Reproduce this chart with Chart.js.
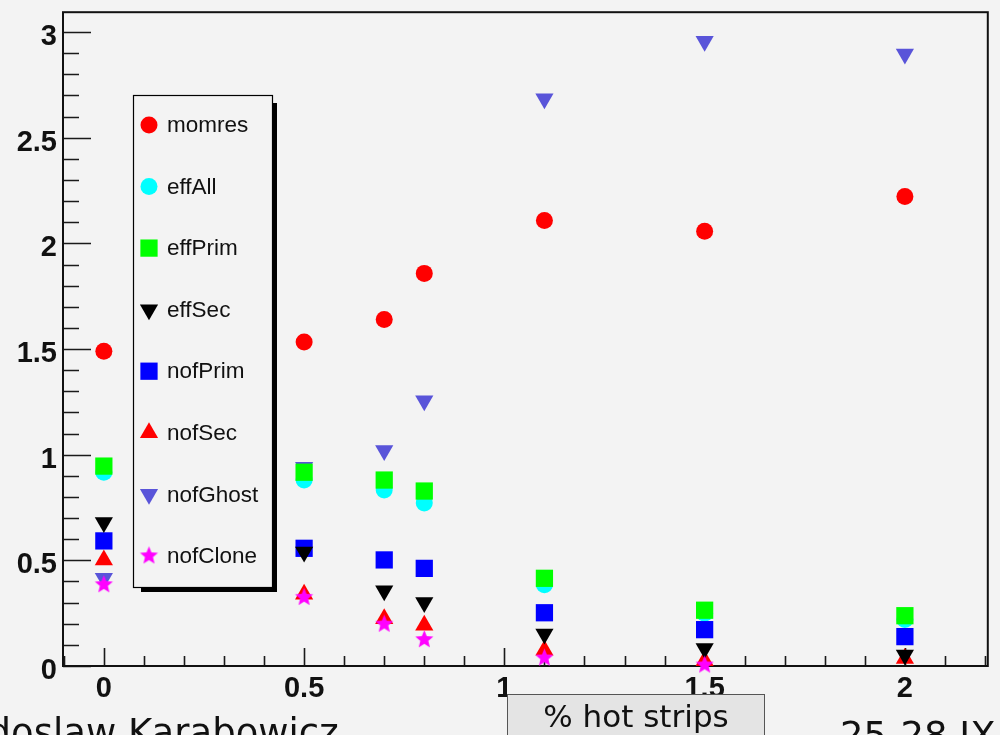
<!DOCTYPE html>
<html><head><meta charset="utf-8">
<script src="https://cdn.jsdelivr.net/npm/chart.js@4.4.1/dist/chart.umd.min.js"></script>
<style>html,body{margin:0;padding:0;background:#f3f3f3;overflow:hidden}canvas{display:block}</style>
</head><body>
<canvas id="c" width="1000" height="735"></canvas>
<script>
// ---- data ----
const hotStrips = [0, 0.5, 0.7, 0.8, 1.1, 1.5, 2.0];
const momres   = [1.49, 1.533, 1.64, 1.858, 2.108, 2.057, 2.222];
const effAll   = [0.917, 0.88, 0.833, 0.771, 0.384, 0.25, 0.22];
const effPrim  = [0.946, 0.917, 0.88, 0.828, 0.415, 0.264, 0.238];
const effSec   = [0.679, 0.54, 0.356, 0.30, 0.151, 0.083, 0.052];
const nofPrim  = [0.592, 0.557, 0.502, 0.462, 0.252, 0.172, 0.139];
const nofSec   = [0.502, 0.34, 0.224, 0.193, 0.075, 0.025, 0.035];
const nofGhost = [0.415, 0.94, 1.02, 1.255, 2.684, 2.957, 2.896];
const nofClone = [0.385, 0.325, 0.198, 0.125, 0.038, 0.005, null];
const seriesNames = ['momres','effAll','effPrim','effSec','nofPrim','nofSec','nofGhost','nofClone'];
const seriesValues = [momres, effAll, effPrim, effSec, nofPrim, nofSec, nofGhost, nofClone];
const xTickLabels = [0, 0.5, 1, 1.5, 2];
const yTickLabels = [0, 0.5, 1, 1.5, 2, 2.5, 3];
const xAxisTitle = '% hot strips';
const authorText = 'Radoslaw Karabowicz';
const dateText = '25-28 IX';

// ---- styles ----
const BG = '#f3f3f3';
function makeStar(color, R, r) {
  const s = Math.ceil(2 * R + 2);
  const c = document.createElement('canvas'); c.width = s; c.height = s;
  const g = c.getContext('2d'); g.fillStyle = color; g.beginPath();
  for (let i = 0; i < 10; i++) {
    const a = -Math.PI / 2 + i * Math.PI / 5; const rr = i % 2 ? r : R;
    g.lineTo(s / 2 + rr * Math.cos(a), s / 2 + rr * Math.sin(a));
  }
  g.closePath(); g.fill(); return c;
}
const starImg = makeStar('#ff00ff', 9.5, 4.2);
const styles = [
  {color:'#ff0000', pointStyle:'circle',   radius:8.5,  rotation:0,   order:7},
  {color:'#00ffff', pointStyle:'circle',   radius:8.5,  rotation:0,   order:6},
  {color:'#00ff00', pointStyle:'rect',     radius:12.2, rotation:0,   order:2},
  {color:'#000000', pointStyle:'triangle', radius:10.5, rotation:180, order:1},
  {color:'#0000ff', pointStyle:'rect',     radius:12.2, rotation:0,   order:4},
  {color:'#ff0000', pointStyle:'triangle', radius:10.5, rotation:0,   order:3},
  {color:'#5954d9', pointStyle:'triangle', radius:10.5, rotation:180, order:5},
  {color:'#ff00ff', pointStyle:starImg,    radius:10,   rotation:0,   order:0}
];

const datasets = seriesNames.map((name, k) => ({
  label: name,
  data: hotStrips.map((x, i) => ({x: x, y: seriesValues[k][i]})).filter(p => p.y !== null),
  showLine: false,
  pointStyle: styles[k].pointStyle,
  pointRadius: styles[k].radius,
  pointHoverRadius: styles[k].radius,
  pointRotation: styles[k].rotation,
  pointBackgroundColor: styles[k].color,
  pointBorderColor: styles[k].color,
  pointBorderWidth: 0,
  order: styles[k].order,
  clip: false
}));

function fallbackDrawPoint(ctx, o, x, y) {
  ctx.save(); ctx.translate(x, y); ctx.rotate((o.rotation || 0) * Math.PI / 180);
  const r = o.radius; ctx.beginPath();
  if (o.pointStyle === 'circle') ctx.arc(0, 0, r, 0, 2 * Math.PI);
  else if (o.pointStyle === 'rect') { const s = r * Math.SQRT1_2; ctx.rect(-s, -s, 2 * s, 2 * s); }
  else if (o.pointStyle === 'triangle') { ctx.moveTo(0, -r); ctx.lineTo(r * 0.866, r / 2); ctx.lineTo(-r * 0.866, r / 2); ctx.closePath(); }
  else { ctx.restore(); ctx.drawImage(o.pointStyle, x - o.pointStyle.width / 2, y - o.pointStyle.height / 2); return; }
  ctx.fill(); ctx.restore();
}
const drawPt = (Chart.helpers && Chart.helpers.drawPoint) ? Chart.helpers.drawPoint : fallbackDrawPoint;

const bgPlugin = {
  id: 'bg',
  beforeDraw(chart) {
    const c = chart.ctx; c.save(); c.fillStyle = BG; c.fillRect(0, 0, chart.width, chart.height); c.restore();
  }
};

const framePlugin = {
  id: 'frameTicks',
  beforeDatasetsDraw(chart) {
    const c = chart.ctx, a = chart.chartArea, xs = chart.scales.x, ys = chart.scales.y;
    c.save();
    c.strokeStyle = '#1a1a1a';
    c.lineWidth = 1.6;
    c.beginPath();
    for (let i = -1; i <= 22; i++) {
      const v = i / 10; if (v < xs.min - 1e-9 || v > xs.max + 1e-9) continue;
      const px = Math.round(xs.getPixelForValue(v)) + 0.5;
      const len = (i % 5 === 0) ? 18 : 10;
      c.moveTo(px, a.bottom); c.lineTo(px, a.bottom - len);
    }
    for (let i = 0; i <= 30; i++) {
      const v = i / 10; if (v > ys.max + 1e-9) continue;
      const py = Math.round(ys.getPixelForValue(v)) + 0.5;
      const len = (i % 5 === 0) ? 28 : 16;
      c.moveTo(a.left, py); c.lineTo(a.left + len, py);
    }
    c.stroke();
    c.lineWidth = 2;
    c.strokeStyle = '#111';
    c.strokeRect(a.left, a.top, a.right - a.left, a.bottom - a.top);
    c.restore();
  }
};

const overlayPlugin = {
  id: 'overlay',
  afterDraw(chart) {
    const c = chart.ctx;
    c.save();
    const L = {x:133, y:95, w:139, h:492, firstY:125, step:61.55, markerX:149, textX:167};
    c.fillStyle = '#000';
    c.fillRect(L.x + 8, L.y + 8, L.w - 3, L.h - 3);
    c.fillStyle = BG;
    c.fillRect(L.x, L.y, L.w, L.h);
    c.strokeStyle = '#000'; c.lineWidth = 1.2;
    c.strokeRect(L.x + 0.5, L.y + 0.5, L.w, L.h);
    c.font = '22.5px "Liberation Sans", Arial, sans-serif';
    c.textBaseline = 'middle'; c.textAlign = 'left';
    chart.data.datasets.forEach((ds, k) => {
      const y = L.firstY + k * L.step;
      c.fillStyle = ds.pointBackgroundColor;
      drawPt(c, {pointStyle: ds.pointStyle, radius: ds.pointRadius, rotation: ds.pointRotation, borderWidth: 0}, L.markerX, y);
      c.fillStyle = '#111';
      c.fillText(ds.label, L.textX, y + 1);
    });
    c.fillStyle = '#e4e4e4';
    c.fillRect(507, 694, 257, 50);
    c.strokeStyle = '#555'; c.lineWidth = 1;
    c.strokeRect(507.5, 694.5, 257, 50);
    c.fillStyle = '#111';
    c.font = '31px "DejaVu Sans", sans-serif';
    c.textAlign = 'center'; c.textBaseline = 'alphabetic';
    c.fillText(xAxisTitle, 636, 727);
    c.font = '37px "DejaVu Sans", sans-serif';
    c.textAlign = 'left';
    const words = authorText.split(' ');
    const firstW = c.measureText(words[0] + ' ').width;
    c.fillText(authorText, 128 - firstW, 745);
    c.fillText(dateText, 840, 748);
    c.restore();
  }
};

const tickFont = {family: '"Liberation Sans", Arial, sans-serif', weight: 'bold', size: 29};
new Chart(document.getElementById('c').getContext('2d'), {
  type: 'scatter',
  data: {datasets},
  options: {
    responsive: false, animation: false, devicePixelRatio: 1,
    layout: {padding: {top: 10, right: 10, left: 0, bottom: 0}},
    plugins: {legend: {display: false}, tooltip: {enabled: false}},
    events: [],
    scales: {
      x: {
        type: 'linear', position: 'bottom', min: -0.102, max: 2.207,
        grid: {display: false, drawTicks: false}, border: {display: false},
        afterBuildTicks: s => { s.ticks = xTickLabels.map(v => ({value: v})); },
        afterFit: s => { s.height = 69; s.paddingLeft = 0; s.paddingRight = 0; s.paddingTop = 0; s.paddingBottom = 0; },
        ticks: {font: tickFont, color: '#111', padding: 6, maxRotation: 0, autoSkip: false, callback: v => String(v)}
      },
      y: {
        type: 'linear', position: 'left', min: 0, max: 3.094,
        grid: {display: false, drawTicks: false}, border: {display: false},
        afterBuildTicks: s => { s.ticks = yTickLabels.map(v => ({value: v})); },
        afterFit: s => { s.width = 63; s.paddingLeft = 0; s.paddingRight = 0; s.paddingTop = 0; s.paddingBottom = 0; },
        ticks: {font: tickFont, color: '#111', padding: 6, labelOffset: 5, autoSkip: false, callback: v => String(v)}
      }
    }
  },
  plugins: [bgPlugin, framePlugin, overlayPlugin]
});
</script>
</body></html>
